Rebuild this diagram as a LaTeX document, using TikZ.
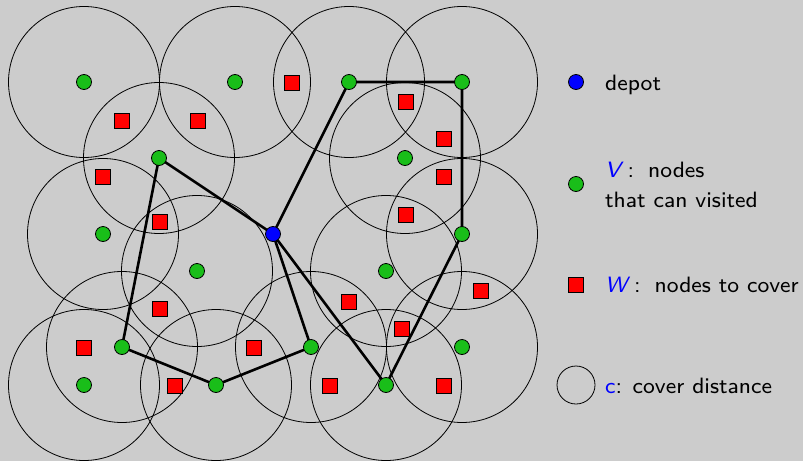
\documentclass[tikz,border=0pt]{standalone}
\usepackage{fontspec}
\setsansfont{lmsans8-regular}[Extension=.otf,ItalicFont=lmsans8-oblique]
\usepackage{xcolor}
\definecolor{bgc}{RGB}{204,204,204}
\definecolor{vgreen}{RGB}{25,190,25}
\pgfdeclarelayer{bglayer}
\pgfdeclarelayer{edgelayer}
\pgfsetlayers{bglayer,edgelayer,main}
\tikzset{
  vnode/.style={circle,draw=black,fill=vgreen,line width=0.8pt,minimum size=15pt,inner sep=0pt},
  depotnode/.style={circle,draw=black,fill=blue,line width=0.8pt,minimum size=15pt,inner sep=0pt},
  wnode/.style={rectangle,draw=black,fill=red,line width=0.8pt,minimum size=15pt,inner sep=0pt},
  cover/.style={draw=black,line width=0.8pt},
  tour/.style={draw=black,line width=2.6pt},
  lbl/.style={anchor=base west,inner sep=0pt,font=\fontsize{22.2}{30}\selectfont\sffamily,align=left}
}
\begin{document}
\begin{tikzpicture}[x=1pt,y=-1pt]
\begin{pgfonlayer}{bglayer}
\fill[bgc] (0,0) rectangle (803,461);
\end{pgfonlayer}
\useasboundingbox (0,0) rectangle (803,461);
% cover circles
\begin{pgfonlayer}{edgelayer}
\foreach \x/\y in {84/82,235/82,349/82,462/82,159/158,405/158,103/234,462/234,197/271,386/271,122/347,311/347,462/347,84/385,216/385,386/385}
  \draw[cover] (\x,\y) circle[radius=75.5];
\end{pgfonlayer}
% visitable nodes
\node[vnode] (v1) at (84,82) {};
\node[vnode] (v2) at (235,82) {};
\node[vnode] (v3) at (349,82) {};
\node[vnode] (v4) at (462,82) {};
\node[vnode] (v5) at (159,158) {};
\node[vnode] (v6) at (405,158) {};
\node[vnode] (v7) at (103,234) {};
\node[vnode] (v8) at (462,234) {};
\node[vnode] (v9) at (197,271) {};
\node[vnode] (v10) at (386,271) {};
\node[vnode] (v11) at (122,347) {};
\node[vnode] (v12) at (311,347) {};
\node[vnode] (v13) at (462,347) {};
\node[vnode] (v14) at (84,385) {};
\node[vnode] (v15) at (216,385) {};
\node[vnode] (v16) at (386,385) {};
\node[depotnode] (d) at (273,234) {};
% nodes to cover
\node[wnode] (w1) at (292,83) {};
\node[wnode] (w2) at (122,121) {};
\node[wnode] (w3) at (198,121) {};
\node[wnode] (w4) at (406,102) {};
\node[wnode] (w5) at (444,139) {};
\node[wnode] (w6) at (103,177) {};
\node[wnode] (w7) at (444,177) {};
\node[wnode] (w8) at (160,222) {};
\node[wnode] (w9) at (406,215) {};
\node[wnode] (w10) at (481,291) {};
\node[wnode] (w11) at (349,302) {};
\node[wnode] (w12) at (160,309) {};
\node[wnode] (w13) at (402,329) {};
\node[wnode] (w14) at (84,348) {};
\node[wnode] (w15) at (254,348) {};
\node[wnode] (w16) at (175,386) {};
\node[wnode] (w17) at (330,386) {};
\node[wnode] (w18) at (444,386) {};
% tours
\begin{pgfonlayer}{edgelayer}
\draw[tour] (d.center) -- (v3.center) -- (v4.center) -- (v8.center) -- (v16.center) -- (d.center);
\draw[tour] (d.center) -- (v5.center) -- (v11.center) -- (v15.center) -- (v12.center) -- (d.center);
\end{pgfonlayer}
% legend
\node[depotnode] (ld) at (576,82) {};
\node[lbl] (td) at (605,90) {depot};
\node[vnode] (lv) at (576,184) {};
\node[lbl] (tv) at (605,207) {\textcolor{blue}{\textit{V}}\,:\; nodes\\that can visited};
\node[wnode] (lw) at (576,285) {};
\node[lbl] (tw) at (605,292) {\textcolor{blue}{\textit{W}}\,:\; nodes to cover};
\node[circle,cover,minimum size=38pt,inner sep=0pt] (lc) at (576,385) {};
\node[lbl] (tc) at (605,393) {\textcolor{blue}{c}: cover distance};
\end{tikzpicture}
\end{document}
